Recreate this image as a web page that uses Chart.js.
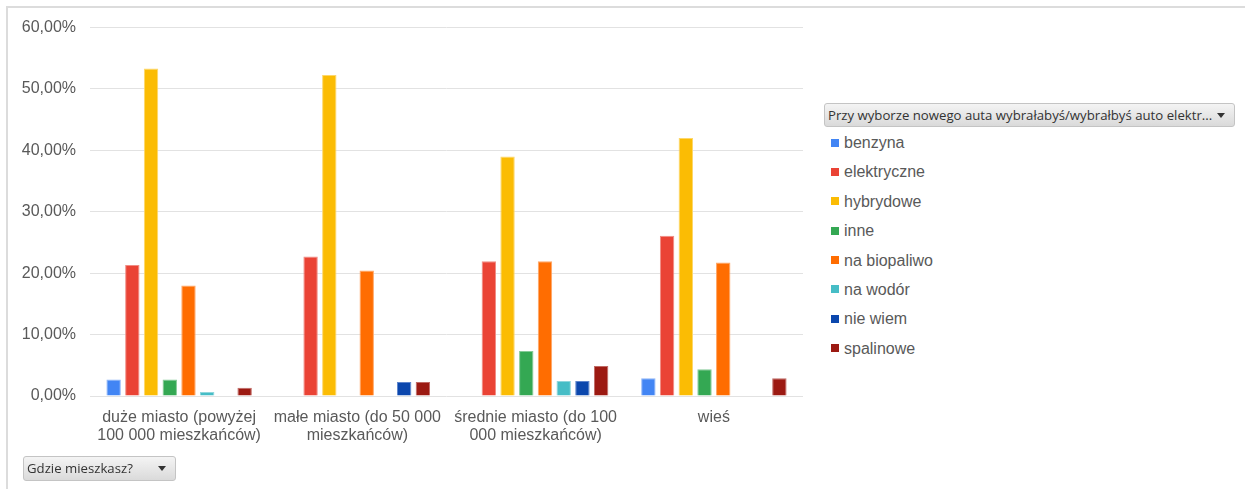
<!DOCTYPE html>
<html>
<head>
<meta charset="utf-8">
<script src="https://cdn.jsdelivr.net/npm/chart.js@4/dist/chart.umd.min.js"></script>
<style>
  html, body { margin: 0; padding: 0; background: #fff; }
  body { width: 1245px; height: 489px; position: relative; overflow: hidden; font-family: "Liberation Sans", Arial, sans-serif; }
  #frameTop { position: absolute; left: 6px; top: 6px; width: 1239px; height: 2px; background: #dcdcdc; }
  #frameLeft { position: absolute; left: 6px; top: 6px; width: 2px; height: 483px; background: #dcdcdc; }
  #wrap { position: absolute; left: 8px; top: 4px; width: 800px; height: 474px; }
  #c { display: block; width: 800px; height: 474px; }
  .btn { position: absolute; box-sizing: border-box; border: 1px solid #c4c4c4; border-radius: 3px;
         background: linear-gradient(#f4f4f4, #dadada); color: #333; font-family: "Open Sans", "Noto Sans", sans-serif;
         font-size: 13.2px; line-height: 22px; padding-left: 3px; white-space: nowrap; overflow: hidden; }
  .btn .arr { position: absolute; right: 9px; top: 9px; width: 0; height: 0; border-left: 4px solid transparent;
              border-right: 4px solid transparent; border-top: 5px solid #333; }
  #legend { position: absolute; left: 831px; top: 128px; width: 300px; }
  .li { position: relative; height: 29.4px; font-size: 16px; color: #595959; white-space: nowrap; font-family: "Liberation Sans", Arial, sans-serif; }
  .li .sw { position: absolute; left: 0; top: 10.5px; width: 8px; height: 8px; }
  .li .tx { position: absolute; left: 13px; top: 5px; line-height: 19px; white-space: nowrap; }
</style>
</head>
<body>
<div id="frameTop"></div>
<div id="frameLeft"></div>
<div id="wrap"><canvas id="c" width="800" height="474"></canvas></div>
<div class="btn" style="left:824px;top:103px;width:411px;height:24px;">Przy wyborze nowego auta wybrałabyś/wybrałbyś auto elektr...<span class="arr"></span></div>
<div id="legend"></div>
<div class="btn" style="left:23px;top:456px;width:153px;height:25px;">Gdzie mieszkasz?<span class="arr"></span></div>
<script>
const categories = [
  ['duże miasto (powyżej', '100 000 mieszkańców)'],
  ['małe miasto (do 50 000', 'mieszkańców)'],
  ['średnie miasto (do 100', '000 mieszkańców)'],
  ['wieś']
];
const seriesNames = ['benzyna', 'elektryczne', 'hybrydowe', 'inne', 'na biopaliwo', 'na wodór', 'nie wiem', 'spalinowe'];
const benzyna     = [2.67, 0, 0, 2.90];
const elektryczne = [21.33, 22.73, 21.95, 26.09];
const hybrydowe   = [53.33, 52.27, 39.02, 42.03];
const inne        = [2.67, 0, 7.32, 4.35];
const biopaliwo   = [18.00, 20.45, 21.95, 21.74];
const wodor       = [0.67, 0, 2.44, 0];
const nieWiem     = [0, 2.27, 2.44, 0];
const spalinowe   = [1.33, 2.27, 4.88, 2.90];
const yTicks = [0, 10, 20, 30, 40, 50, 60];

const seriesValues = [benzyna, elektryczne, hybrydowe, inne, biopaliwo, wodor, nieWiem, spalinowe];
const colors = ['#4285F4', '#EA4335', '#FBBC04', '#34A853', '#FF6D01', '#46BDC6', '#0B47AD', '#9C1A12'];
const borders = ['#8DB4F8', '#F08C84', '#FDD76A', '#85CB98', '#FFA767', '#8FD6DC', '#5E85CC', '#C06A65'];

const datasets = seriesNames.map((n, i) => ({
  label: n,
  data: seriesValues[i],
  backgroundColor: colors[i],
  borderColor: borders[i],
  borderWidth: 1,
  categoryPercentage: 0.84,
  barPercentage: 0.77
}));

// HTML legend built from the series arrays
const lg = document.getElementById('legend');
seriesNames.forEach((n, i) => {
  const d = document.createElement('div');
  d.className = 'li';
  d.innerHTML = '<span class="sw" style="background:' + colors[i] + '"></span><span class="tx">' + n + '</span>';
  lg.appendChild(d);
});

new Chart(document.getElementById('c'), {
  type: 'bar',
  data: { labels: categories, datasets },
  options: {
    responsive: false,
    maintainAspectRatio: false,
    animation: false,
    devicePixelRatio: 1,
    layout: { padding: { left: 0, right: 5, top: 0, bottom: 0 } },
    plugins: { legend: { display: false }, tooltip: { enabled: false } },
    scales: {
      x: {
        grid: { display: false, drawTicks: false },
        border: { display: false },
        ticks: {
          color: '#595959', padding: 13, maxRotation: 0, autoSkip: false,
          font: { family: '"Liberation Sans", Arial, sans-serif', size: 16, lineHeight: 1.12 }
        },
        afterFit: s => { s.height = 82; }
      },
      y: {
        min: yTicks[0], max: yTicks[yTicks.length - 1],
        afterBuildTicks: s => { s.ticks = yTicks.map(v => ({ value: v })); },
        grid: { color: '#e2e2e2', lineWidth: 1, drawTicks: false },
        border: { display: false },
        ticks: {
          color: '#595959', padding: 14, autoSkip: false,
          font: { family: '"Liberation Sans", Arial, sans-serif', size: 16 },
          callback: v => v.toFixed(2).replace('.', ',') + '%'
        },
        afterFit: s => { s.width = 82; }
      }
    }
  }
});
</script>
</body>
</html>
